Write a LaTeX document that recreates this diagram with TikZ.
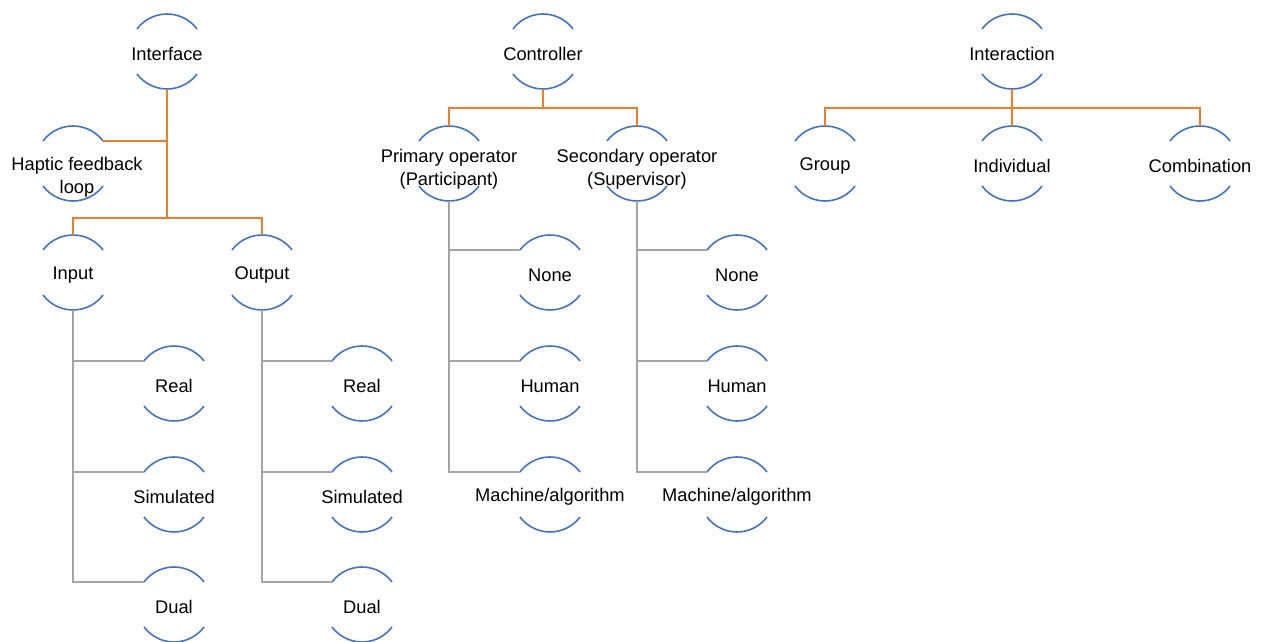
\documentclass[tikz,border=0pt]{standalone}
\usepackage{fontspec}
\setmainfont{Liberation Sans}
\definecolor{arcblue}{HTML}{4472C4}
\definecolor{conorange}{HTML}{ED7D31}
\definecolor{congray}{HTML}{A5A5A5}
\tikzset{
  hn/.style={rectangle, inner sep=0pt, align=center,
    font=\fontsize{18.3}{23}\selectfont, text=black},
  arcline/.style={draw=arcblue, line width=1.6pt},
  obranch/.style={draw=conorange, line width=1.6pt},
  otrunk/.style={draw=conorange, line width=2.8pt},
  gbranch/.style={draw=congray, line width=1.5pt},
  gtrunk/.style={draw=congray, line width=2.6pt},
}
% #1 extra text options, #2 name, #3 circle centre, #4 text
\newcommand{\hnode}[4][]{%
  \coordinate (#2-c) at (#3);
  \coordinate (#2-t) at ([yshift=37.5]#2-c);
  \coordinate (#2-b) at ([yshift=-37.5]#2-c);
  \coordinate (#2-l) at ([shift={(-30,22.5)}]#2-c);
  \coordinate (#2-r) at ([shift={(30,22.5)}]#2-c);
  \node[hn,yshift=-2.5pt,#1] (#2) at (#3) {#4};
  \draw[arcline] (#2-l) arc[start angle=143.13,end angle=36.87,radius=37.5];
  \draw[arcline] ([shift={(-30,-22.5)}]#2-c) arc[start angle=216.87,end angle=323.13,radius=37.5];
}
\begin{document}
\begin{tikzpicture}[x=1pt,y=1pt]
\useasboundingbox (0,0) rectangle (1262,642);
\fill[white] (0,0) rectangle (1262,642);

% ---- nodes: Interface tree
\hnode{Interface}{167,590.5}{Interface}
\hnode[xshift=4pt,yshift=-11.5pt]{Haptic}{73,478.5}{Haptic feedback\\loop}
\hnode{Input}{73,369.5}{Input}
\hnode{Output}{262,369.5}{Output}
\hnode{InReal}{174,258.5}{Real}
\hnode{InSim}{174,147.5}{Simulated}
\hnode{InDual}{174,37.5}{Dual}
\hnode{OutReal}{362,258.5}{Real}
\hnode{OutSim}{362,147.5}{Simulated}
\hnode{OutDual}{362,37.5}{Dual}

% ---- Controller tree
\hnode{Controller}{543,590.5}{Controller}
\hnode[yshift=-3pt]{Primary}{449,478.5}{Primary operator\\(Participant)}
\hnode[yshift=-3pt]{Secondary}{637,478.5}{Secondary operator\\(Supervisor)}
\hnode{PNone}{550,369.5}{None}
\hnode{PHuman}{550,258.5}{Human}
\hnode{PMach}{550,147.5}{Machine/algorithm}
\hnode{SNone}{737,369.5}{None}
\hnode{SHuman}{737,258.5}{Human}
\hnode{SMach}{737,147.5}{Machine/algorithm}

% ---- Interaction tree
\hnode{Interaction}{1012,590.5}{Interaction}
\hnode{Group}{825,478.5}{Group}
\hnode{Individual}{1012,478.5}{Individual}
\hnode{Combination}{1200,478.5}{Combination}

% ---- orange connectors
% Interface
\draw[otrunk] (Interface-b) -- ([yshift=17]Interface-b |- Input-t);
\draw[obranch] (Interface-b) |- (Haptic-r);
\draw[obranch] (Interface-b) |- ([yshift=17]Input-t) -- (Input-t);
\draw[obranch] (Interface-b) |- ([yshift=17]Output-t) -- (Output-t);
% Controller
\draw[otrunk] (Controller-b) -- ([yshift=18]Controller-b |- Primary-t);
\draw[obranch] (Controller-b) |- ([yshift=18]Primary-t) -- (Primary-t);
\draw[obranch] (Controller-b) |- ([yshift=18]Secondary-t) -- (Secondary-t);
% Interaction
\draw[otrunk] (Interaction-b) -- ([yshift=18]Interaction-b |- Individual-t);
\draw[obranch] (Interaction-b) |- ([yshift=18]Group-t) -- (Group-t);
\draw[obranch] (Interaction-b) -- (Individual-t);
\draw[obranch] (Interaction-b) |- ([yshift=18]Combination-t) -- (Combination-t);

% ---- gray connectors
\draw[gtrunk] (Input-b) -- (Input-b |- InSim-l);
\draw[gbranch] (Input-b) |- (InReal-l);
\draw[gbranch] (Input-b) |- (InSim-l);
\draw[gbranch] (Input-b) |- (InDual-l);

\draw[gtrunk] (Output-b) -- (Output-b |- OutSim-l);
\draw[gbranch] (Output-b) |- (OutReal-l);
\draw[gbranch] (Output-b) |- (OutSim-l);
\draw[gbranch] (Output-b) |- (OutDual-l);

\draw[gtrunk] (Primary-b) -- (Primary-b |- PHuman-l);
\draw[gbranch] (Primary-b) |- (PNone-l);
\draw[gbranch] (Primary-b) |- (PHuman-l);
\draw[gbranch] (Primary-b) |- (PMach-l);

\draw[gtrunk] (Secondary-b) -- (Secondary-b |- SHuman-l);
\draw[gbranch] (Secondary-b) |- (SNone-l);
\draw[gbranch] (Secondary-b) |- (SHuman-l);
\draw[gbranch] (Secondary-b) |- (SMach-l);
\end{tikzpicture}
\end{document}
